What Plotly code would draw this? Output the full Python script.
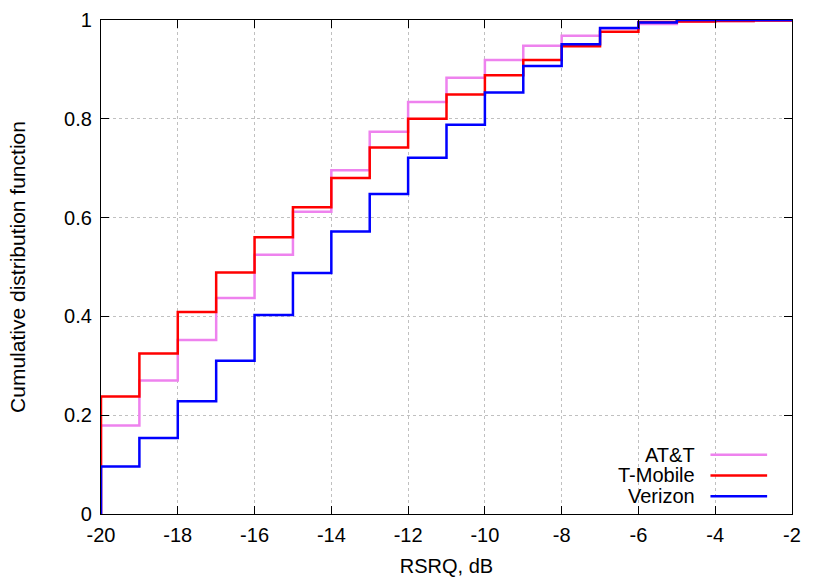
import plotly.graph_objects as go

# ---- data ----
x_steps = [-20, -19, -18, -17, -16, -15, -14, -13, -12, -11, -10,
           -9, -8, -7, -6, -5, -4, -3, -2]
series_names = ["AT&T", "T-Mobile", "Verizon"]
att = [0.179, 0.270, 0.352, 0.437, 0.525, 0.612, 0.696, 0.774, 0.834, 0.883,
       0.919, 0.948, 0.968, 0.983, 0.992, 0.997, 0.998, 0.999, 1.0]
tmobile = [0.238, 0.325, 0.409, 0.489, 0.560, 0.621, 0.680, 0.742, 0.800, 0.849,
           0.888, 0.919, 0.947, 0.976, 0.996, 0.997, 0.998, 0.999, 1.0]
verizon = [0.096, 0.154, 0.228, 0.310, 0.403, 0.488, 0.572, 0.648, 0.721, 0.788,
           0.853, 0.907, 0.951, 0.984, 0.995, 1.0, 1.0, 1.0, 1.0]
x_tickvals = [-20, -18, -16, -14, -12, -10, -8, -6, -4, -2]
x_ticktext = ["-20", "-18", "-16", "-14", "-12", "-10", "-8", "-6", "-4", "-2"]
y_tickvals = [0, 0.2, 0.4, 0.6, 0.8, 1]
y_ticktext = ["0", "0.2", "0.4", "0.6", "0.8", "1"]

colors = ["#ee82ee", "#ff0000", "#0000ff"]
values = [att, tmobile, verizon]

FONT = "Liberation Sans, Arial, sans-serif"
FS = 20

fig = go.Figure()
for name, vals, col in zip(series_names, values, colors):
    fig.add_trace(go.Scatter(
        x=[x_steps[0]] + x_steps, y=[0] + vals,
        mode="lines", line=dict(color=col, width=2.5, shape="hv"),
        name=name, showlegend=False, hoverinfo="skip"))

# gnuplot-style legend: text right-aligned, sample line to the right
leg_y = [0.120, 0.078, 0.036]
for name, col, yy in zip(series_names, colors, leg_y):
    fig.add_annotation(x=0.862, y=yy, xref="paper", yref="paper",
                       text=name, showarrow=False, xanchor="right", yanchor="middle",
                       font=dict(family=FONT, size=FS, color="black"))
    fig.add_shape(type="line", xref="paper", yref="paper",
                  x0=0.882, x1=0.964, y0=yy, y1=yy,
                  line=dict(color=col, width=2.5))

axis_common = dict(
    showline=True, linecolor="black", linewidth=1.2, mirror="ticks",
    ticks="inside", ticklen=8, tickcolor="black", tickwidth=1,
    showgrid=True, gridcolor="#c0c0c0", griddash="dot", gridwidth=1,
    zeroline=False, tickfont=dict(family=FONT, size=FS, color="black"),
    automargin=False,
)

fig.update_xaxes(range=[-20, -2], tickvals=x_tickvals, ticktext=x_ticktext,
                 ticklabelstandoff=3,
                 title=dict(text="RSRQ, dB", font=dict(family=FONT, size=FS, color="black"),
                            standoff=13),
                 **axis_common)
fig.update_yaxes(range=[0, 1], tickvals=y_tickvals, ticktext=y_ticktext,
                 ticklabelstandoff=4,
                 title=dict(text="Cumulative distribution function",
                            font=dict(family=FONT, size=21, color="black"), standoff=32),
                 **axis_common)

fig.update_layout(
    width=830, height=581,
    margin=dict(l=101, r=38, t=20, b=67),
    plot_bgcolor="white", paper_bgcolor="white",
    font=dict(family=FONT, size=FS, color="black"),
)

fig.write_html("out.html", config={"displayModeBar": False},
               post_script="document.body.style.margin='0';")
